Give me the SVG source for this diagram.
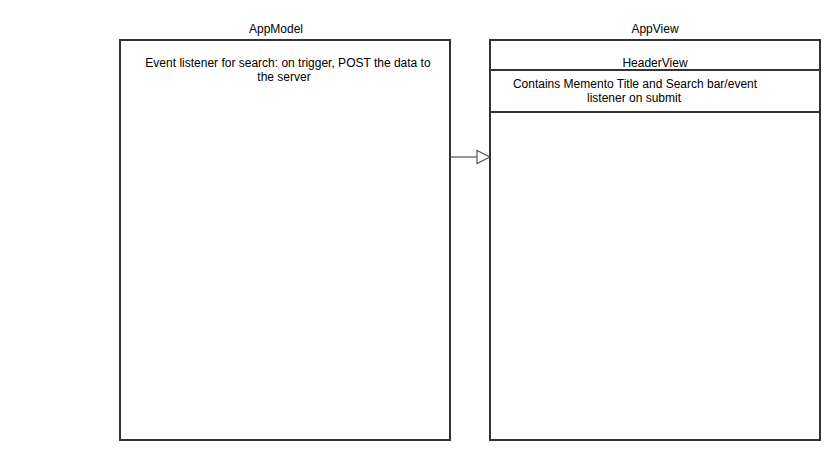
<svg xmlns="http://www.w3.org/2000/svg" width="840" height="460" viewBox="0 0 840 460">
<style>
.box{fill:#fff;stroke:#333;stroke-width:2}
.sep{stroke:#333;stroke-width:2;fill:none}
.t{font-family:"Liberation Sans",Arial,sans-serif;font-size:12px;fill:#000;text-anchor:middle}
.conn{stroke:#777;stroke-width:1.5;fill:none}
</style>
<rect width="840" height="460" fill="#fff"/>
<g id="connectors">
<line class="conn" x1="451" y1="157" x2="477" y2="157"/>
<polygon points="477,150.5 490,157 477,163.5" fill="#fff" stroke="#555" stroke-width="1.2"/>
</g>
<g id="AppModel">
<text class="t" x="276" y="33">AppModel</text>
<rect class="box" x="120" y="40" width="330" height="400"/>
<text class="t" x="288" y="67">Event listener for search: on trigger, POST the data to</text>
<text class="t" x="284" y="81">the server</text>
</g>
<g id="AppView">
<text class="t" x="655" y="33">AppView</text>
<rect class="box" x="490" y="40" width="330" height="400"/>
</g>
<g id="HeaderView">
<text class="t" x="655" y="67">HeaderView</text>
<line class="sep" x1="490" y1="70" x2="820" y2="70"/>
<text class="t" x="635" y="88">Contains Memento Title and Search bar/event</text>
<text class="t" x="634" y="102">listener on submit</text>
<line class="sep" x1="490" y1="112" x2="820" y2="112"/>
</g>
</svg>
